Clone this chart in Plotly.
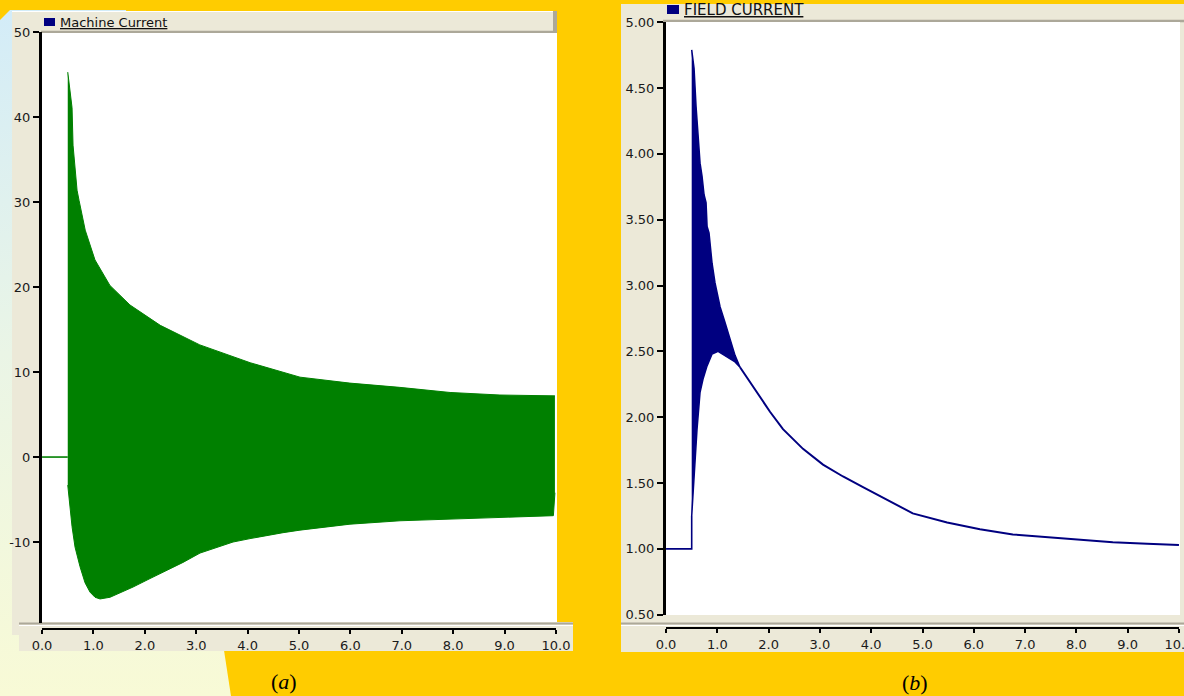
import base64
import plotly.graph_objects as go

W, H = 1184, 696

# ---------------- data ----------------
# (a) Machine current: zero before the disturbance, then a dense oscillation
# whose upper / lower envelopes are given below (time in s, current)
mc_pre_t = [0.0, 0.5]
mc_pre_i = [0.0, 0.0]

mc_up_t = [0.50, 0.545, 0.584, 0.603, 0.642, 0.681, 0.72, 0.84, 1.03, 1.32,
           1.71, 2.30, 3.07, 4.05, 5.02, 5.99, 6.96, 7.94, 8.91, 9.98]
mc_up_i = [45.3, 42.8, 41.1, 36.7, 34.4, 31.4, 30.2, 26.7, 23.2, 20.2,
           17.9, 15.5, 13.2, 11.1, 9.4, 8.7, 8.2, 7.6, 7.3, 7.2]

mc_lo_t = [0.50, 0.545, 0.584, 0.642, 0.739, 0.837, 0.934, 1.031, 1.128, 1.323,
           1.518, 1.770, 2.101, 2.432, 2.743, 3.074, 3.405, 3.716, 4.047, 4.377,
           4.689, 5.019, 5.992, 6.965, 8.42, 9.95, 9.98]
mc_lo_i = [-3.3, -6.2, -8.2, -10.6, -12.9, -14.8, -15.9, -16.5, -16.7, -16.5,
           -16.0, -15.3, -14.3, -13.3, -12.4, -11.3, -10.6, -10.0, -9.6, -9.2,
           -8.9, -8.6, -7.9, -7.5, -7.2, -6.9, -4.2]

# (b) Field current
fc_pre_t = [0.0, 0.5, 0.5]
fc_pre_i = [1.0, 1.0, 1.25]

fc_up_t = [0.50, 0.546, 0.585, 0.624, 0.663, 0.702, 0.741, 0.78, 0.80, 0.838,
           0.858, 0.897, 0.955, 1.053, 1.15, 1.248, 1.345, 1.442]
fc_up_i = [4.79, 4.65, 4.36, 4.17, 3.93, 3.83, 3.69, 3.63, 3.45, 3.40,
           3.30, 3.17, 3.02, 2.84, 2.72, 2.59, 2.47, 2.38]

fc_lo_t = [0.50, 0.546, 0.604, 0.663, 0.721, 0.80, 0.897, 1.014, 1.189, 1.345, 1.442]
fc_lo_i = [1.25, 1.57, 1.91, 2.19, 2.29, 2.39, 2.48, 2.50, 2.46, 2.42, 2.38]

fc_tail_t = [1.442, 1.83, 2.03, 2.28, 2.67, 3.06, 3.45, 3.84, 4.37, 4.81,
             5.48, 6.12, 6.76, 7.43, 8.07, 8.71, 9.38, 10.0]
fc_tail_i = [2.38, 2.16, 2.04, 1.91, 1.76, 1.64, 1.55, 1.47, 1.36, 1.27,
             1.20, 1.15, 1.11, 1.09, 1.07, 1.05, 1.04, 1.03]

x_ticks = [0, 1, 2, 3, 4, 5, 6, 7, 8, 9, 10]
x_tick_labels = ["0.0", "1.0", "2.0", "3.0", "4.0", "5.0", "6.0", "7.0", "8.0", "9.0", "10.0"]
ya_ticks = [-10, 0, 10, 20, 30, 40, 50]
ya_tick_labels = ["-10", "0", "10", "20", "30", "40", "50"]
yb_ticks = [0.5, 1.0, 1.5, 2.0, 2.5, 3.0, 3.5, 4.0, 4.5, 5.0]
yb_tick_labels = ["0.50", "1.00", "1.50", "2.00", "2.50", "3.00", "3.50", "4.00", "4.50", "5.00"]

title_a = "Machine Current"
title_b = "FIELD CURRENT"

# ---------------- styling ----------------
YELLOW = "#FFCC00"
BEIGE = "#ECE9D8"
GREY = "#ACA899"
GREEN = "#008000"
NAVY = "#000080"
TICKFONT = dict(family="DejaVu Sans", size=13, color="#1a1a1a")


def fx(x):
    return x / W


def fy(y):
    return 1 - y / H


fig = go.Figure()

# panel (a)
fig.add_trace(go.Scatter(x=mc_pre_t, y=mc_pre_i, mode="lines",
                         line=dict(color=GREEN, width=1.6), xaxis="x", yaxis="y"))
fig.add_trace(go.Scatter(x=mc_lo_t, y=mc_lo_i, mode="lines",
                         line=dict(color=GREEN, width=1), xaxis="x", yaxis="y"))
fig.add_trace(go.Scatter(x=mc_up_t, y=mc_up_i, mode="lines", fill="tonexty",
                         fillcolor=GREEN, line=dict(color=GREEN, width=1),
                         xaxis="x", yaxis="y"))

# panel (b)
fig.add_trace(go.Scatter(x=fc_pre_t, y=fc_pre_i, mode="lines",
                         line=dict(color=NAVY, width=1.6), xaxis="x2", yaxis="y2"))
fig.add_trace(go.Scatter(x=fc_lo_t, y=fc_lo_i, mode="lines",
                         line=dict(color=NAVY, width=1.5), xaxis="x2", yaxis="y2"))
fig.add_trace(go.Scatter(x=fc_up_t, y=fc_up_i, mode="lines", fill="tonexty",
                         fillcolor=NAVY, line=dict(color=NAVY, width=1.5),
                         xaxis="x2", yaxis="y2"))
fig.add_trace(go.Scatter(x=fc_tail_t, y=fc_tail_i, mode="lines",
                         line=dict(color=NAVY, width=2), xaxis="x2", yaxis="y2"))

axis_common = dict(showgrid=False, zeroline=False, showline=True, linecolor="black",
                   ticks="outside", tickcolor="black", tickfont=TICKFONT, fixedrange=True,
                   ticklabeloverflow="allow")

# panel (a) geometry: x 0..10 -> px 42..556 ; y 50 at px 32, 8.5 px per unit
ya_bottom_px = 623
ya_top_px = 32
ya_low = 50 - (ya_bottom_px - ya_top_px) / 8.5

fig.update_layout(
    xaxis=dict(domain=[fx(42), fx(556)], range=[-0.001, 10.001], anchor="free",
               position=fy(629), linewidth=2, ticklen=4, tickwidth=2,
               tickvals=x_ticks, ticktext=x_tick_labels, **axis_common),
    yaxis=dict(domain=[fy(ya_bottom_px), fy(ya_top_px)], range=[ya_low, 50.02], anchor="x",
               linewidth=3, ticklen=6, tickwidth=2,
               tickvals=ya_ticks, ticktext=ya_tick_labels, **axis_common),
    xaxis2=dict(domain=[fx(666), fx(1179)], range=[-0.001, 10.001], anchor="free",
                position=fy(628), linewidth=2, ticklen=4, tickwidth=2,
                tickvals=x_ticks, ticktext=x_tick_labels, **axis_common),
    yaxis2=dict(domain=[fy(615), fy(22)], range=[0.498, 5.002], anchor="x2",
                linewidth=3, ticklen=6, tickwidth=2,
                tickvals=yb_ticks, ticktext=yb_tick_labels, **axis_common),
)

# background light region (gradient) as an inline SVG image
svg = (
    f"<svg xmlns='http://www.w3.org/2000/svg' width='{W}' height='{H}' viewBox='0 0 {W} {H}' "
    "preserveAspectRatio='none'><defs><linearGradient id='g' x1='0' y1='0' x2='0' y2='1'>"
    "<stop offset='0' stop-color='#D3ECF8'/><stop offset='0.5' stop-color='#EAF5E6'/>"
    "<stop offset='1' stop-color='#F8FAD6'/></linearGradient></defs>"
    "<polygon points='0,20 10,10 126,10 231,696 0,696' fill='url(#g)'/></svg>"
)
src = "data:image/svg+xml;base64," + base64.b64encode(svg.encode()).decode()
images = [dict(source=src, xref="paper", yref="paper", x=0, y=1, sizex=1, sizey=1,
               sizing="stretch", xanchor="left", yanchor="top", layer="below")]


def rect(x0, y0, x1, y1, color):
    return dict(type="rect", xref="paper", yref="paper", x0=fx(x0), x1=fx(x1),
                y0=fy(y1), y1=fy(y0), fillcolor=color, line=dict(width=0), layer="below")


def hline(x0, x1, y, color, w):
    return dict(type="line", xref="paper", yref="paper", x0=fx(x0), x1=fx(x1),
                y0=fy(y), y1=fy(y), line=dict(color=color, width=w), layer="below")


def vline(x, y0, y1, color, w):
    return dict(type="line", xref="paper", yref="paper", x0=fx(x), x1=fx(x),
                y0=fy(y0), y1=fy(y1), line=dict(color=color, width=w), layer="below")


shapes = [
    # panel (a)
    rect(12, 11, 41, 635, BEIGE),
    rect(41, 11, 557, 33, BEIGE),
    hline(12, 557, 11.5, "#FFFFFF", 1),
    hline(41, 557, 32, GREY, 2.5),
    vline(555, 11, 33, GREY, 4),
    rect(42, 33, 557, 623, "#FFFFFF"),
    rect(19, 622, 573, 651, BEIGE),
    hline(19, 573, 623.5, GREY, 2),
    hline(19, 573, 625.5, "#FFFFFF", 1),
    rect(44, 18, 55, 26, NAVY),
    # panel (b)
    rect(621, 4, W, 652, BEIGE),
    hline(663, W, 21, GREY, 2.5),
    rect(666, 22, 1180, 615, "#FFFFFF"),
    hline(621, W, 623.5, GREY, 2),
    hline(621, W, 625.5, "#FFFFFF", 1),
    rect(667, 5, 679, 14, NAVY),
]

annotations = [
    dict(text=f"<u>{title_a}</u>", xref="paper", yref="paper", x=fx(58), y=fy(22),
         xanchor="left", yanchor="middle", showarrow=False,
         font=dict(family="DejaVu Sans", size=13, color="#111111")),
    dict(text=f"<u>{title_b}</u>", xref="paper", yref="paper", x=fx(682), y=fy(10),
         xanchor="left", yanchor="middle", showarrow=False,
         font=dict(family="DejaVu Sans", size=15, color="#111111")),
    dict(text="(<i>a</i>)", xref="paper", yref="paper", x=fx(284), y=fy(681),
         xanchor="center", yanchor="middle", showarrow=False,
         font=dict(family="Liberation Serif", size=22, color="#000000")),
    dict(text="(<i>b</i>)", xref="paper", yref="paper", x=fx(915), y=fy(682),
         xanchor="center", yanchor="middle", showarrow=False,
         font=dict(family="Liberation Serif", size=22, color="#000000")),
]

fig.update_layout(
    width=W, height=H, autosize=False,
    margin=dict(l=0, r=0, t=0, b=0, pad=0, autoexpand=False),
    paper_bgcolor=YELLOW, plot_bgcolor="rgba(0,0,0,0)",
    showlegend=False,
    shapes=shapes, images=images, annotations=annotations,
)

fig.write_html(
    "out.html",
    config={"displayModeBar": False},
    post_script="document.body.style.margin='0px';document.body.style.padding='0px';"
                "document.body.style.overflow='hidden';",
)
